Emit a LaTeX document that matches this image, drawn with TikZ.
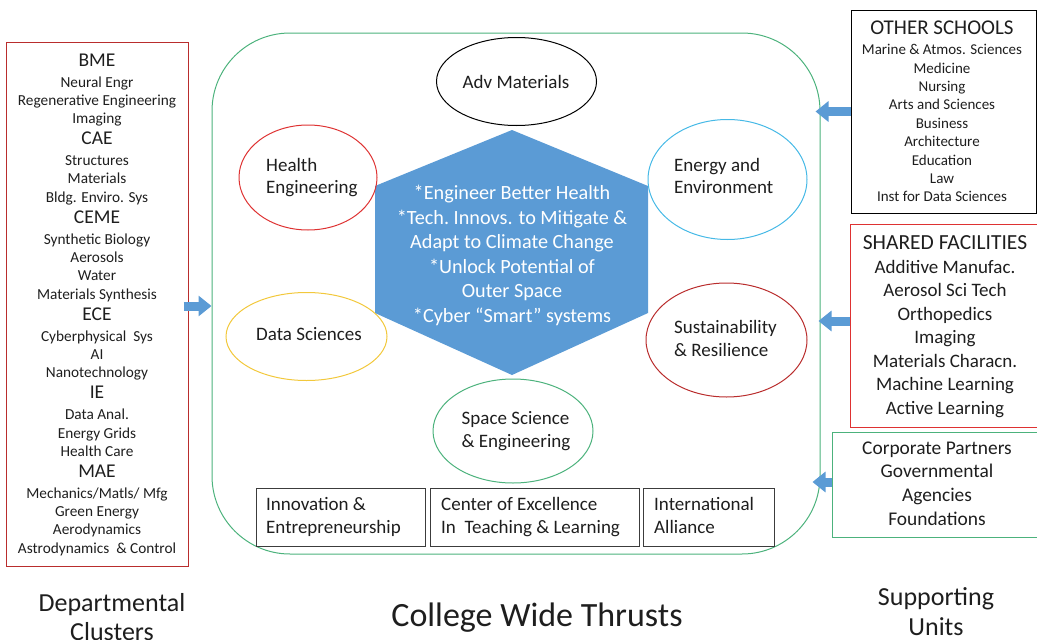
\documentclass[tikz,border=0pt]{standalone}
\usepackage{fontspec}
\setmainfont{Carlito}
\usetikzlibrary{arrows.meta,shapes.geometric}
\definecolor{frameg}{RGB}{76,178,124}
\definecolor{hexblue}{RGB}{91,155,213}
\definecolor{darkred}{RGB}{185,45,45}
\definecolor{brightred}{RGB}{222,50,50}
\definecolor{skyc}{RGB}{70,185,230}
\definecolor{goldy}{RGB}{242,200,60}
\definecolor{txt}{RGB}{30,30,30}
\definecolor{boxgray}{RGB}{60,60,60}
\newcommand\dhead[1]{{\fontsize{19.5}{18.3}\selectfont #1}}
\begin{document}
\begin{tikzpicture}[x=1pt,y=-1pt,
  every node/.style={text=txt},
  oval/.style={draw, ellipse, line width=1pt, inner sep=0pt},
  box/.style={draw, rectangle, inner sep=0pt, line width=1pt},
  blockarrow/.style={draw=hexblue, line width=9pt, -{Triangle[length=13pt,width=20pt]}},
  stack/.style={anchor=base, align=center, inner sep=0pt},
  lstack/.style={anchor=base west, align=left, inner sep=0pt, font=\fontsize{19}{22.7}\selectfont},
  otext/.style={anchor=base, inner sep=0pt, font=\fontsize{19}{22.7}\selectfont}
]
\useasboundingbox (0,0) rectangle (1037,640);

% big frame
\node (frame) [draw=frameg, line width=1pt, rectangle, rounded corners=78pt,
  minimum width=608pt, minimum height=521pt, inner sep=0pt] at (516,293.5) {};

% left box (anchor base = last line's baseline)
\node (lbox) [box, draw=darkred, minimum width=182pt, minimum height=524pt] at (97,304) {};
\node (ltxt) [stack, font=\fontsize{15.3}{18.3}\selectfont] at (97,553.2) {\dhead{BME}\\[2.7pt]
 Neural Engr\\ Regenerative Engineering\\ Imaging\\[2.7pt]
 \dhead{CAE}\\[2.7pt] Structures\\ Materials\\ Bldg. Enviro. Sys\\[2.7pt]
 \dhead{CEME}\\[2.7pt] Synthetic Biology\\ Aerosols\\ Water\\ Materials Synthesis\\[2.7pt]
 \dhead{ECE}\\[2.7pt] Cyberphysical\ \ Sys\\ AI\\ Nanotechnology\\[2.7pt]
 \dhead{IE}\\[2.7pt] Data Anal.\\ Energy Grids\\ Health Care\\[2.7pt]
 \dhead{MAE}\\[2.7pt] Mechanics/Matls/\ Mfg\\ Green Energy\\ Aerodynamics\\ Astrodynamics\ \ \& Control};

% right boxes
\node (os) [box, draw=black, minimum width=185pt, minimum height=203pt] at (943.5,111.5) {};
\node (ostxt) [stack, font=\fontsize{15}{18.4}\selectfont] at (942,201.8) {{\fontsize{21}{18.4}\selectfont OTHER SCHOOLS}\\[1.6pt]
 Marine \& Atmos. Sciences\\ Medicine\\ Nursing\\ Arts and Sciences\\ Business\\ Architecture\\ Education\\ Law\\ Inst for Data Sciences};

\node (sf) [box, draw=brightred, minimum width=188pt, minimum height=203pt] at (944.5,325.5) {};
\node (sftxt) [stack, font=\fontsize{19}{23.5}\selectfont] at (945,414) {{\fontsize{21.5}{23.5}\selectfont SHARED FACILITIES}\\[0.5pt]
 Additive\ Manufac.\\ Aerosol Sci Tech\\ Orthopedics\\ Imaging\\ Materials Characn.\\ Machine Learning\\ Active Learning};

\node (gb) [box, draw=frameg, minimum width=206pt, minimum height=105pt] at (935,484.5) {};
\node (gbtxt) [stack, font=\fontsize{19.4}{23.7}\selectfont] at (937,525.1) {Corporate Partners\\ Governmental\\ Agencies\\ Foundations};

% hexagon
\fill[hexblue] (512,130) coordinate (h1) -- (648,186) coordinate (h2) -- (648,313) coordinate (h3)
  -- (512,375) coordinate (h4) -- (375,313) coordinate (h5) -- (375,186) coordinate (h6) -- cycle;
\node (hex) [stack, text=white, font=\fontsize{20.2}{24.6}\selectfont] at (512,322.5) {*Engineer Better Health\\
 *Tech.\ Innovs. to Mitigate \&\\ Adapt to Climate Change\\ *Unlock Potential of\\ Outer Space\\ *Cyber ``Smart'' systems};

% ellipses
\node (adv) [oval, draw=black, minimum width=160pt, minimum height=88pt] at (516.5,81.5) {};
\node (advT) [otext] at (516,88) {Adv Materials};
\node (hea) [oval, draw=brightred, minimum width=138pt, minimum height=105pt] at (308,177.5) {};
\node (heaT) [lstack] at (266,193.7) {Health\\ Engineering};
\node (ene) [oval, draw=skyc, minimum width=159pt, minimum height=120pt] at (727.5,179.5) {};
\node (eneT) [lstack] at (674,193.7) {Energy and\\ Environment};
\node (dat) [oval, draw=goldy, minimum width=161pt, minimum height=88pt] at (306.5,336.5) {};
\node (datT) [otext] at (309,340) {Data Sciences};
\node (sus) [oval, draw=darkred, minimum width=161pt, minimum height=114pt] at (726.5,340) {};
\node (susT) [lstack] at (674,356) {Sustainability\\ \& Resilience};
\node (spa) [oval, draw=frameg, minimum width=160pt, minimum height=104pt] at (513,431) {};
\node (spaT) [lstack] at (461.5,447) {Space Science\\ \& Engineering};

% bottom boxes
\node (b1) [box, draw=boxgray, minimum width=169pt, minimum height=58pt] at (340.5,517) {};
\node (b1T) [lstack] at (266,533.6) {Innovation \&\\ Entrepreneurship};
\node (b2) [box, draw=boxgray, minimum width=209pt, minimum height=58pt] at (534.5,517) {};
\node (b2T) [lstack] at (441,533.6) {Center of Excellence\\ In\ \ Teaching \& Learning};
\node (b3) [box, draw=boxgray, minimum width=131pt, minimum height=58pt] at (708.5,517) {};
\node (b3T) [lstack] at (654,533.6) {International\\ Alliance};

% arrows
\draw[blockarrow] ([xshift=-5pt,yshift=-2pt]lbox.east) -- ([yshift=-2pt]lbox.east -| frame.west);
\draw[blockarrow] (os.west) -- ([xshift=-5pt]os.west -| frame.east);
\draw[blockarrow] ([yshift=4.5pt]sf.west) -- ([xshift=-2pt,yshift=4.5pt]sf.west -| frame.east);
\draw[blockarrow] ([yshift=2.5pt]gb.west) -- ([xshift=-8pt,yshift=2.5pt]gb.west -| frame.east);

% captions
\node (capL) [stack, font=\fontsize{26}{29}\selectfont] at (112,640) {Departmental\\ Clusters};
\node (capC) [stack, font=\fontsize{34}{40}\selectfont] at (537,626) {College Wide Thrusts};
\node (capR) [stack, font=\fontsize{26}{30}\selectfont] at (936,635.5) {Supporting\\ Units};
\end{tikzpicture}
\end{document}
